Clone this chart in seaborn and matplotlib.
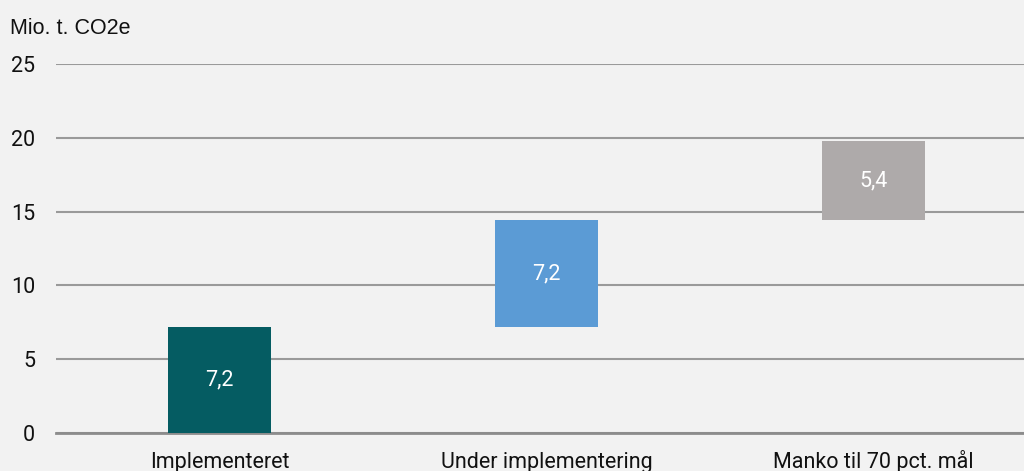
import matplotlib
matplotlib.use("Agg")
import matplotlib.pyplot as plt
import seaborn as sns

categories = ["Implementeret", "Under implementering", "Manko til 70 pct. mål"]
values = [7.2, 7.2, 5.4]
bottoms = [0.0, 7.2, 14.4]
labels = ["7,2", "7,2", "5,4"]
colors = ["#055c62", "#5b9bd5", "#aeaaaa"]
yticks = [0, 5, 10, 15, 20, 25]

sns.set_theme(style="white")
plt.rcParams["font.family"] = ["Roboto", "DejaVu Sans"]

fig = plt.figure(figsize=(10.24, 4.71), dpi=100, facecolor="#f2f2f2")
ax = fig.add_axes([56/1024, 1-433/471, (1024-56)/1024, (433-64)/471])
ax.set_facecolor("#f2f2f2")

for cat, v, b, c in zip(categories, values, bottoms, colors):
    sns.barplot(x=[cat], y=[v], order=categories, color=c, bottom=b,
                width=0.315, saturation=1, linewidth=0, ax=ax, zorder=3)

for i, (v, b, lab) in enumerate(zip(values, bottoms, labels)):
    ax.text(i, b + v/2, lab, ha="center", va="center", color="white",
            fontsize=15.5, zorder=4)

ax.set_ylim(0, 25)
ax.set_xlim(-0.5, 2.46)
ax.set_yticks(yticks)
ax.set_yticklabels([str(t) for t in yticks], fontsize=15.5, color="#111111")
ax.yaxis.grid(True, color="#9a9a9a", linewidth=1.5, zorder=0)
ax.set_axisbelow(True)
for s in ["top", "right", "left"]:
    ax.spines[s].set_visible(False)
ax.spines["bottom"].set_color("#8c8c8c")
ax.spines["bottom"].set_linewidth(2)
ax.tick_params(axis="y", length=0, pad=15)
ax.tick_params(axis="x", length=0, pad=25, labelsize=15.5, labelcolor="#111111")
for t in ax.get_xticklabels():
    t.set_verticalalignment("baseline")
ax.set_xlabel("")
ax.set_ylabel("")
fig.text(10/1024, 1-28/471, "Mio. t. CO2e", fontsize=15.5, family="Liberation Sans",
         va="center", ha="left", color="#111111")

fig.savefig("out.png", dpi=100, facecolor="#f2f2f2")
